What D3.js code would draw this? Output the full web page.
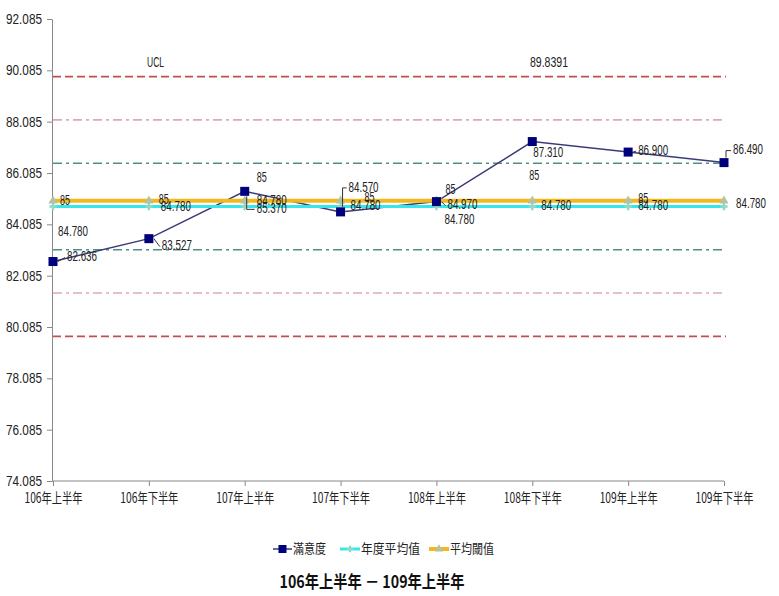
<!DOCTYPE html>
<html><head><meta charset="utf-8">
<script src="https://cdn.jsdelivr.net/npm/d3@7"></script>
<style>
body{margin:0;background:#fff;}
svg{display:block;}
</style></head>
<body>
<svg id="chart" width="779" height="596"></svg>
<script>
// ---- data ----
const categories = ["106年上半年","106年下半年","107年上半年","107年下半年","108年上半年","108年下半年","109年上半年","109年下半年"];
const satisfaction = [82.636, 83.527, 85.370, 84.570, 84.970, 87.310, 86.900, 86.490];
const yearAverage = [84.780, 84.780, 84.780, 84.780, 84.780, 84.780, 84.780, 84.780];
const threshold = [85, 85, 85, 85, 85, 85, 85, 85];
const limitNames = ["UCL", "+2σ", "+1σ", "-1σ", "-2σ", "LCL"];
const limitValues = [89.8391, 88.153, 86.466, 83.094, 81.407, 79.721];
const yTicks = [74.085, 76.085, 78.085, 80.085, 82.085, 84.085, 86.085, 88.085, 90.085, 92.085];
const legendNames = ["滿意度", "年度平均值", "平均閾值"];
const titleText = "106年上半年 － 109年上半年";

// ---- layout (label offsets, not data) ----
const satLabelOff = [[14,-4],[13,8],[12,18],[8,-24],[11,4],[1,12],[10,-1],[9,-12]];
const avgLabelOff = [[5,26],[12,1],[12,-5],[10,0],[8,14],[9,0],[10,0],[12,-2]];
const thrLabelOff = [[7,0],[10,-1],[12,-23],[24,-3],[9,-11],[-3,-25],[10,-2],null];

const svg = d3.select("#chart");
const x = d3.scalePoint().domain(categories).range([53, 724]);
const y = d3.scaleLinear().domain([74.085, 92.085]).range([481, 19]);
const numFont = "'Liberation Sans','Arial',sans-serif";
const cjkFont = "'Noto Sans CJK TC','Noto Sans CJK SC',sans-serif";

// y axis
const yAxis = svg.append("g").attr("transform","translate(52,0)")
  .call(d3.axisLeft(y).tickValues(yTicks).tickFormat(d3.format(".3f")).tickSize(5).tickSizeOuter(0));
yAxis.select(".domain").attr("stroke","#888");
yAxis.selectAll(".tick line").attr("stroke","#888");
yAxis.selectAll(".tick text").attr("font-family",numFont).attr("font-size",14).attr("fill","#222").attr("dx",-2)
  .attr("textLength",36).attr("lengthAdjust","spacingAndGlyphs");

// x axis
const xAxis = svg.append("g").attr("transform","translate(0,481)")
  .call(d3.axisBottom(x).tickSize(5).tickSizeOuter(0).tickFormat(""));
xAxis.select(".domain").attr("stroke","#888").attr("d","M52,0H724");
xAxis.selectAll(".tick line").attr("stroke","#888");
xAxis.selectAll(".tick").append("text")
  .attr("y",18).attr("text-anchor","middle").attr("dominant-baseline","middle")
  .attr("font-family",cjkFont).attr("font-size",14).attr("fill","#222")
  .attr("textLength",58).attr("lengthAdjust","spacingAndGlyphs")
  .text(d=>d);

// control limit lines
const limitStyles = [
  {c:"#c0504d", dash:"8,4"},
  {c:"#dcaab0", dash:"9,4,3,4"},
  {c:"#4f8f86", dash:"9,4,3,4"},
  {c:"#4f8f86", dash:"9,4,3,4"},
  {c:"#dcaab0", dash:"9,4,3,4"},
  {c:"#c0504d", dash:"8,4"}
];
svg.append("g").selectAll("line").data(limitValues).join("line")
  .attr("x1", x(categories[0])).attr("x2", x(categories[categories.length-1]) + 2)
  .attr("y1", d=>y(d)).attr("y2", d=>y(d))
  .attr("stroke",(d,i)=>limitStyles[i].c).attr("stroke-width",1.6)
  .attr("stroke-dasharray",(d,i)=>limitStyles[i].dash);
svg.append("text").attr("x",147).attr("y",y(limitValues[0])-13).attr("dominant-baseline","middle")
  .attr("font-family",numFont).attr("font-size",14).attr("fill","#222")
  .attr("textLength",17).attr("lengthAdjust","spacingAndGlyphs").text(limitNames[0]);
svg.append("text").attr("x",530).attr("y",y(limitValues[0])-13).attr("dominant-baseline","middle")
  .attr("font-family",numFont).attr("font-size",14).attr("fill","#222")
  .attr("textLength",38).attr("lengthAdjust","spacingAndGlyphs").text(limitValues[0].toFixed(4));

// satisfaction line
const line = d3.line().x((d,i)=>x(categories[i])).y(d=>y(d));
svg.append("path").datum(satisfaction).attr("d",line)
  .attr("fill","none").attr("stroke","#3b3b78").attr("stroke-width",1.5);

// year average (cyan)
svg.append("path").datum(yearAverage).attr("d",line)
  .attr("fill","none").attr("stroke","#35e6ea").attr("stroke-width",3);
// threshold (yellow)
svg.append("path").datum(threshold).attr("d",line)
  .attr("fill","none").attr("stroke","#f2b81c").attr("stroke-width",4);

// cyan markers
svg.append("g").selectAll("path").data(yearAverage).join("path")
  .attr("d", d3.symbol().type(d3.symbolCross).size(30)())
  .attr("transform",(d,i)=>`translate(${x(categories[i])},${y(d)})`)
  .attr("fill","#8fd9c9");
// threshold markers
svg.append("g").selectAll("path").data(threshold).join("path")
  .attr("d", d3.symbol().type(d3.symbolTriangle).size(36)())
  .attr("transform",(d,i)=>`translate(${x(categories[i])},${y(d)})`)
  .attr("fill","#b4c2a4");

// satisfaction markers
svg.append("g").selectAll("rect").data(satisfaction).join("rect")
  .attr("x",(d,i)=>x(categories[i])-4.5).attr("y",d=>y(d)-4.5)
  .attr("width",9).attr("height",9).attr("fill","#00007a");

// leader lines for satisfaction labels
svg.append("g").selectAll("path").data(satisfaction).join("path")
  .attr("d",(d,i)=>{
    const px = x(categories[i]), py = y(d);
    const lx = px + satLabelOff[i][0], ly = py + satLabelOff[i][1];
    if (Math.abs(satLabelOff[i][1]) > 10 && satLabelOff[i][0] > 5) {
      const s = satLabelOff[i][1] > 0 ? 5 : -5;
      return `M${px+2},${py+s}V${ly}H${lx-2}`;
    }
    if (satLabelOff[i][0] > 8) return `M${px+5},${py}L${lx-2},${ly}`;
    return null;
  })
  .attr("fill","none").attr("stroke","#333").attr("stroke-width",1);

function labels(data, offs, fmt){
  svg.append("g").selectAll("text").data(data.map((v,i)=>({v,i})).filter(d=>offs[d.i]))
    .join("text")
    .attr("x",d=>x(categories[d.i]) + offs[d.i][0])
    .attr("y",d=>y(d.v) + offs[d.i][1])
    .attr("dominant-baseline","middle")
    .attr("font-family",numFont).attr("font-size",14).attr("fill","#222")
    .attr("textLength",d=>fmt(d.v).length*5)
    .attr("lengthAdjust","spacingAndGlyphs")
    .text(d=>fmt(d.v));
}
labels(satisfaction, satLabelOff, d3.format(".3f"));
labels(yearAverage, avgLabelOff, d3.format(".3f"));
labels(threshold, thrLabelOff, d=>String(d));

// legend
const lg = svg.append("g");
const legendItems = [
  {x1:273, x2:292, tx:293, tl:33, c:"#3b3b78", w:1.5, m:"rect"},
  {x1:340, x2:360, tx:361, tl:59, c:"#35e6ea", w:3, m:"cross"},
  {x1:429, x2:449, tx:450, tl:44, c:"#f2b81c", w:4, m:"tri"}
];
legendItems.forEach((it,i)=>{
  const ly = 549;
  lg.append("line").attr("x1",it.x1).attr("x2",it.x2).attr("y1",ly).attr("y2",ly)
    .attr("stroke",it.c).attr("stroke-width",it.w);
  const cx = (it.x1+it.x2)/2;
  if (it.m==="rect") lg.append("rect").attr("x",cx-4).attr("y",ly-4).attr("width",8).attr("height",8).attr("fill","#00007a");
  if (it.m==="cross") lg.append("path").attr("d",d3.symbol().type(d3.symbolCross).size(24)()).attr("transform",`translate(${cx},${ly})`).attr("fill","#8fd9c9");
  if (it.m==="tri") lg.append("path").attr("d",d3.symbol().type(d3.symbolTriangle).size(30)()).attr("transform",`translate(${cx},${ly})`).attr("fill","#b4c2a4");
  lg.append("text").attr("x",it.tx).attr("y",ly).attr("dominant-baseline","middle")
    .attr("font-family",cjkFont).attr("font-size",13).attr("fill","#222")
    .attr("textLength",it.tl).attr("lengthAdjust","spacingAndGlyphs")
    .text(legendNames[i]);
});

// title
svg.append("text").attr("x",372).attr("y",583).attr("text-anchor","middle").attr("dominant-baseline","middle")
  .attr("font-family",cjkFont).attr("font-size",17).attr("font-weight","bold").attr("fill","#111")
  .attr("textLength",185).attr("lengthAdjust","spacingAndGlyphs")
  .text(titleText);
</script>
</body></html>
